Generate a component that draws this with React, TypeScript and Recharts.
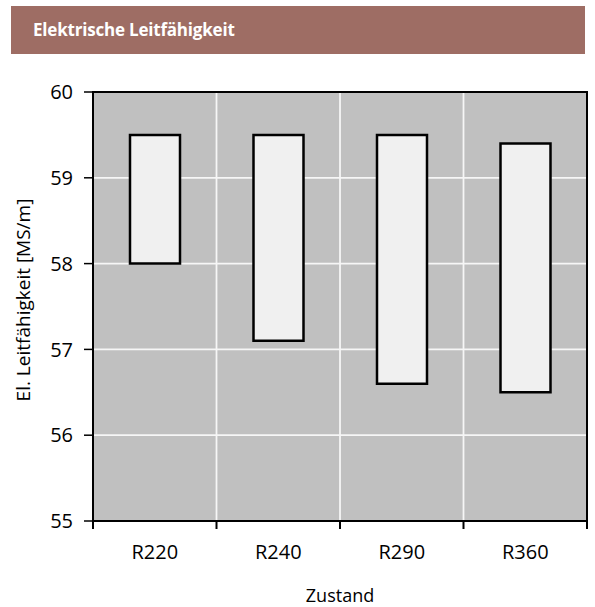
import React from 'react';
import {
  ComposedChart,
  Bar,
  XAxis,
  YAxis,
  CartesianGrid,
  ReferenceArea,
} from 'recharts';

const zustand = ['R220', 'R240', 'R290', 'R360'];
const positionen = [0.5, 1.5, 2.5, 3.5];
const minWerte = [58.0, 57.1, 56.6, 56.5];
const maxWerte = [59.5, 59.5, 59.5, 59.4];
const yTicks = [55, 56, 57, 58, 59, 60];
const grenzTicks = [0, 1, 2, 3, 4];

const data = zustand.map((z, i) => ({
  name: z,
  pos: positionen[i],
  range: [minWerte[i], maxWerte[i]],
}));

const FONT = '"Open Sans", "Noto Sans", sans-serif';

export default function App() {
  return (
    <div
      style={{
        position: 'absolute',
        left: 0,
        top: 0,
        width: 595,
        height: 607,
        background: '#ffffff',
        fontFamily: FONT,
        overflow: 'hidden',
      }}
    >
      {/* Kopfzeile */}
      <div
        style={{
          position: 'absolute',
          left: 11,
          top: 6,
          width: 574,
          height: 48,
          background: '#9e6d64',
          color: '#ffffff',
          fontWeight: 700,
          fontSize: 17,
          lineHeight: '48px',
          paddingLeft: 22,
          boxSizing: 'border-box',
          letterSpacing: -0.2,
        }}
      >
        Elektrische Leitfähigkeit
      </div>

      <div style={{ position: 'absolute', left: 0, top: 0 }}>
        <ComposedChart
          width={595}
          height={607}
          data={data}
          margin={{ top: 92, right: 8, bottom: 45, left: 0 }}
          barSize={50}
        >
          <CartesianGrid
            xAxisId="grenzen"
            yAxisId="wert"
            fill="#c0c0c0"
            stroke="#f6f6f6"
            strokeWidth={1.8}
          />
          <XAxis
            xAxisId="grenzen"
            dataKey="pos"
            type="number"
            domain={[0, 4]}
            ticks={grenzTicks}
            allowDataOverflow
            tickFormatter={() => ''}
            tickSize={8}
            height={1}
            axisLine={{ stroke: '#000', strokeWidth: 2 }}
            tickLine={{ stroke: '#000', strokeWidth: 2 }}
          />
          <XAxis
            xAxisId="kat"
            dataKey="name"
            height={40}
            axisLine={false}
            tickLine={false}
            tickSize={8}
            tickMargin={15}
            tick={{ fill: '#000', fontSize: 20, fontFamily: FONT }}
          />
          <YAxis
            yAxisId="wert"
            domain={[55, 60]}
            ticks={yTicks}
            width={93}
            tickSize={9}
            tickMargin={11}
            axisLine={{ stroke: '#000', strokeWidth: 2 }}
            tickLine={{ stroke: '#000', strokeWidth: 1.5 }}
            tick={{ fill: '#000', fontSize: 20, fontFamily: FONT }}
          />
          <ReferenceArea
            xAxisId="grenzen"
            yAxisId="wert"
            x1={0}
            x2={4}
            y1={55}
            y2={60}
            fill="none"
            fillOpacity={0}
            stroke="#000"
            strokeWidth={2}
          />
          <Bar
            xAxisId="kat"
            yAxisId="wert"
            dataKey="range"
            fill="#f0f0f0"
            stroke="#000"
            strokeWidth={2.5}
            isAnimationActive={false}
          />
        </ComposedChart>
      </div>

      {/* Achsentitel */}
      <div
        style={{
          position: 'absolute',
          left: 23,
          top: 300,
          transform: 'translate(-50%, -50%) rotate(-90deg)',
          whiteSpace: 'nowrap',
          fontSize: 19,
          lineHeight: 1,
          color: '#000',
        }}
      >
        El. Leitfähigkeit [MS/m]
      </div>
      <div
        style={{
          position: 'absolute',
          left: 340,
          top: 595,
          transform: 'translate(-50%, -50%)',
          whiteSpace: 'nowrap',
          fontSize: 18,
          lineHeight: 1,
          color: '#000',
        }}
      >
        Zustand
      </div>
    </div>
  );
}
